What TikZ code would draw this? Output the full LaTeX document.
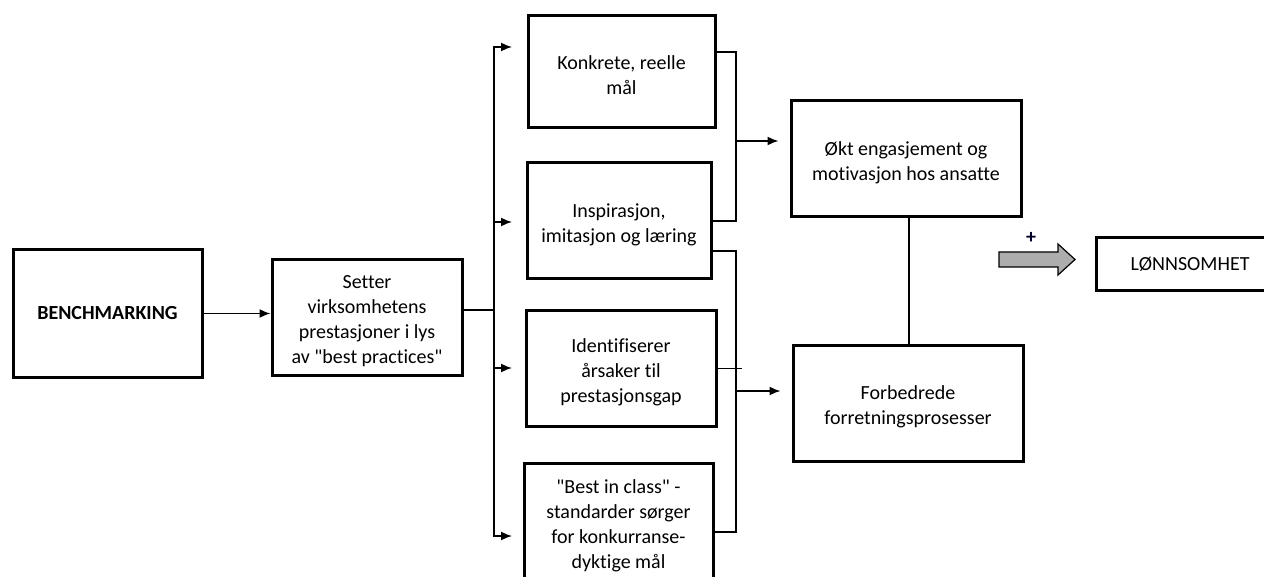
\documentclass[tikz,border=0pt]{standalone}
\usepackage{fontspec}
\defaultfontfeatures{}
\defaultfontfeatures[\rmfamily]{}
\setmainfont{Carlito}[Ligatures={NoCommon}]
\usetikzlibrary{arrows.meta}
% extra room above the first line of a multi-line label
\newcommand{\topgap}{\rule{0pt}{21pt}}
\begin{document}
\begin{tikzpicture}[x=1pt,y=-1pt,
  box/.style={draw,line width=3pt,inner sep=0pt,align=center,
    font=\fontsize{20}{25}\selectfont},
  conn/.style={line width=1.6pt},
  arr/.style={conn,-{Latex[length=11pt,width=9pt]}},
  link/.style={line width=1.1pt}]
\useasboundingbox (0,0) rectangle (1264,577);
\clip (0,0) rectangle (1264,577);

% boxes
\node[box,minimum width=189pt,minimum height=127pt,font=\fontsize{20}{25}\selectfont\bfseries]
  (bench) at (107.5,313.5) {BENCHMARKING};
\node[box,minimum width=190pt,minimum height=115pt] (setter) at (367,317.5)
  {\topgap Setter\\virksomhetens\\prestasjoner i lys\\av "best practices"};
\node[box,minimum width=187pt,minimum height=112pt] (k1) at (621.5,72)
  {\topgap Konkrete, reelle\\mål};
\node[box,minimum width=184pt,minimum height=116pt] (k2) at (619,221)
  {\topgap Inspirasjon,\\imitasjon og læring};
\node[box,minimum width=190pt,minimum height=115pt] (k3) at (621,368.5)
  {\topgap Identifiserer\\årsaker til\\prestasjonsgap};
\node[box,minimum width=189pt,minimum height=126pt] (k4) at (618.5,526)
  {"Best in class" -\\standarder sørger\\for konkurranse-\\dyktige mål};
\node[box,minimum width=230pt,minimum height=116pt] (okt) at (906,159)
  {\topgap Økt engasjement og\\motivasjon hos ansatte};
\node[box,minimum width=230pt,minimum height=115pt] (forb) at (908,403.5)
  {\topgap Forbedrede\\forretningsprosesser};
\node[box,minimum width=188pt,minimum height=53pt] (lonn) at (1190,264.5)
  {LØNNSOMHET};

% benchmarking feeds the comparison
\draw[arr] (bench.east) -- (bench.east -| setter.west);

% distribution bus to the four effects
\coordinate (bus) at (494,310);
\coordinate (t1) at (512,47);
\coordinate (t2) at (512,222);
\coordinate (t3) at (512,368);
\coordinate (t4) at (512,536);
\draw[conn] (setter.east |- bus) -- (bus);
\draw[arr] (bus) |- (t1);
\draw[arr] (bus) |- (t2);
\draw[arr] (bus) |- (t3);
\draw[arr] (bus) |- (t4);

% upper bracket: goals and inspiration -> engagement
\coordinate (j1) at (736,141);
\draw[conn] ([yshift=20pt]k1.east) -| (j1);
\draw[conn] (k2.east) -| (j1);
\draw[arr,shorten >=11pt] (j1) -- (j1 -| okt.west);

% lower bracket: learning, gaps, standards -> processes
\coordinate (j2) at (736,391);
\draw[conn] ([yshift=-30pt]k2.east) -| (j2);
\draw[conn] ([yshift=-6pt]k4.east) -| (j2);
\draw[conn] (k3.east) -- ++(24,0);
\draw[arr,shorten >=11pt] (j2) -- (j2 -| forb.west);

% engagement and processes are linked
\draw[link] (okt.south -| 909,0) -- (forb.north -| 909,0);

% block arrow towards profitability
\draw[line width=1.2pt,fill=black!32] (999,252) -- (1058,252) -- (1058,244)
  -- (1075,259.5) -- (1058,275) -- (1058,267) -- (999,267) -- cycle;
\node[font=\fontsize{20}{20}\selectfont\bfseries,text=black!85!blue] (plus) at (1031,238) {+};
\end{tikzpicture}
\end{document}
